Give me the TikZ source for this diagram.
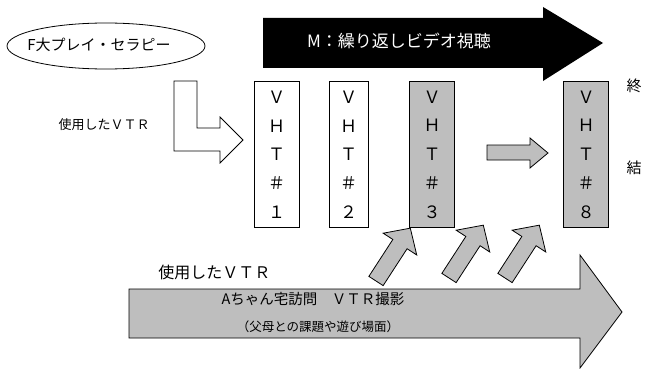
\documentclass[tikz,border=0pt]{standalone}
\usepackage{fontspec}
\setmainfont{Noto Sans CJK JP}
\usetikzlibrary{shapes.geometric}
\definecolor{texgray}{RGB}{190,190,190}
\begin{document}
\begin{tikzpicture}[x=1pt,y=-1pt,line width=0.8pt,line join=miter,
  vhtbox/.style={draw=black,minimum width=45pt,minimum height=146pt,inner sep=0pt,align=center,
    font=\fontsize{17}{28.7}\selectfont},
  shaded/.style={fill=texgray},
  blockarrow/.style={draw=black,fill=texgray},
  lbl/.style={inner sep=0pt},
  diag/.pic={\draw[blockarrow] (0,-8.5) -- (44,-8.5) -- (44,-20) -- (63,0) -- (44,20) -- (44,8.5) -- (0,8.5) -- cycle;}
]
\useasboundingbox (0,0) rectangle (645,369);

% ellipse
\node[draw,ellipse,minimum width=198pt,minimum height=46pt,inner sep=0pt] (play) at (106,46) {};
\node[lbl,font=\fontsize{15}{15}\selectfont] (playtext) at (99,45) {F大プレイ・セラピー};

% black arrow
\fill[black] (263,18) -- (543,18) -- (543,7) -- (603,43) -- (543,81) -- (543,68) -- (263,68) -- cycle;
\node[lbl,text=white,font=\fontsize{17}{17}\selectfont] (mtext) at (399,41) {M：繰り返しビデオ視聴};

% left label
\node[lbl,font=\fontsize{13}{13}\selectfont] (usedA) at (104,125) {使用したＶＴＲ};

% L arrow
\draw[fill=white] (174,81) -- (197,81) -- (197,128) -- (220,128) -- (220,117) -- (243,140) -- (220,163) -- (220,151) -- (174,151) -- cycle;

% boxes
\node[vhtbox] (b1) at (276.5,154.5) {Ｖ\\Ｈ\\Ｔ\\＃\\１};
\node[vhtbox,minimum width=39pt] (b2) at (348.5,154.5) {Ｖ\\Ｈ\\Ｔ\\＃\\２};
\node[vhtbox] (b3) [shaded] at (432,154.5) {Ｖ\\Ｈ\\Ｔ\\＃\\３};
\node[vhtbox,shaded] (b8) at (586,154.5) {Ｖ\\Ｈ\\Ｔ\\＃\\８};

% small gray arrow
\draw[blockarrow] (487,145) -- (530,145) -- (530,138) -- (548,153) -- (530,168) -- (530,160) -- (487,160) -- cycle;

% right labels
\node[lbl,font=\fontsize{15}{15}\selectfont] (owa) at (634,86) {終};
\node[lbl,font=\fontsize{15}{15}\selectfont] (ketsu) at (634,168) {結};

% big gray arrow
\draw[blockarrow] (129,289) -- (580,289) -- (580,255) -- (622,312) -- (580,368) -- (580,338) -- (129,338) -- cycle;

% diagonal arrows
\pic[rotate=57] at (376,281) {diag};
\pic[rotate=57] at (449,278) {diag};
\pic[rotate=57] at (505,278) {diag};

% bottom labels
\node[lbl,anchor=west,font=\fontsize{16}{16}\selectfont] (usedB) at (158,272) {使用したＶＴＲ};
\node[lbl,font=\fontsize{14.5}{14.5}\selectfont] (visit) at (313,299) {Aちゃん宅訪問　ＶＴＲ撮影};
\node[lbl,font=\fontsize{12.5}{12.5}\selectfont] (scene) at (318,327) {（父母との課題や遊び場面）};
\end{tikzpicture}
\end{document}
